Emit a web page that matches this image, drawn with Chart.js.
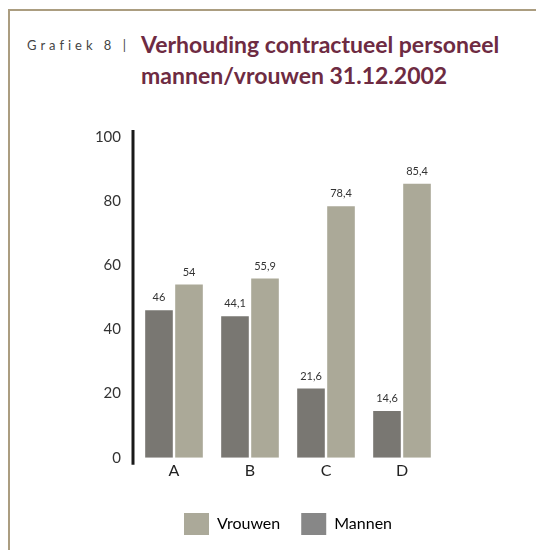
<!DOCTYPE html>
<html>
<head>
<meta charset="utf-8">
<script src="https://cdn.jsdelivr.net/npm/chart.js@4.4.0/dist/chart.umd.min.js"></script>
<style>
  body { margin: 0; background: #fff; width: 536px; height: 550px; overflow: hidden; position: relative; font-family: Lato, sans-serif; }
  .frame { position: absolute; left: 8px; top: 9px; right: 0; bottom: 0; border-left: 2px solid #ab9d80; border-top: 2px solid #ab9d80; }
  .kop { position: absolute; left: 27px; top: 37px; font-size: 13px; letter-spacing: 4px; color: #444; }
  .titel { position: absolute; left: 141px; top: 29px; font-size: 23px; line-height: 31px; font-weight: bold; color: #6e2b42; }
  .wrap { position: absolute; left: 45px; top: 110px; width: 491px; height: 440px; }
</style>
</head>
<body>
<div class="frame"></div>
<div class="kop">Grafiek 8 |</div>
<div class="titel">Verhouding contractueel personeel<br>mannen/vrouwen 31.12.2002</div>
<div class="wrap"><canvas id="myChart"></canvas></div>
<script>
var categories = ['A', 'B', 'C', 'D'];
var mannen = [46, 44.1, 21.6, 14.6];
var vrouwen = [54, 55.9, 78.4, 85.4];
var yTicks = [0, 20, 40, 60, 80, 100];

// numbers above the bars, with a decimal comma
var valueLabels = {
  id: 'valueLabels',
  afterDatasetsDraw: function (chart) {
    var ctx = chart.ctx;
    ctx.save();
    ctx.font = '11px Lato, sans-serif';
    ctx.fillStyle = '#333';
    ctx.textAlign = 'center';
    ctx.textBaseline = 'bottom';
    chart.data.datasets.forEach(function (ds, i) {
      chart.getDatasetMeta(i).data.forEach(function (bar, j) {
        ctx.fillText(String(ds.data[j]).replace('.', ','), bar.x, bar.y - 7);
      });
    });
    ctx.restore();
  }
};

// thick black y axis, a bit longer than the scale itself
var axisLine = {
  id: 'axisLine',
  afterDraw: function (chart) {
    var ctx = chart.ctx;
    var a = chart.chartArea;
    ctx.save();
    ctx.strokeStyle = '#1a1a1a';
    ctx.lineWidth = 3;
    ctx.beginPath();
    ctx.moveTo(a.left - 3, a.top - 7);
    ctx.lineTo(a.left - 3, a.bottom + 7);
    ctx.stroke();
    ctx.restore();
  }
};

var legendColors = ['#aba999', '#878787'];

var ctx = document.getElementById('myChart').getContext('2d');
var myChart = new Chart(ctx, {
  type: 'bar',
  data: {
    labels: categories,
    datasets: [{
      label: 'Mannen',
      data: mannen,
      backgroundColor: '#797772'
    }, {
      label: 'Vrouwen',
      data: vrouwen,
      backgroundColor: '#aba998'
    }]
  },
  options: {
    responsive: true,
    maintainAspectRatio: false,
    animation: false,
    categoryPercentage: 0.79,
    barPercentage: 0.92,
    layout: { padding: { top: 27, right: 96, bottom: 5 } },
    plugins: {
      tooltip: { enabled: false },
      legend: {
        position: 'bottom',
        fullSize: false,
        reverse: true,
        labels: {
          boxWidth: 25,
          boxHeight: 22,
          padding: 21,
          color: '#222',
          font: { family: 'Lato, sans-serif', size: 16 },
          generateLabels: function (chart) {
            return chart.data.datasets.map(function (ds, i) {
              return {
                text: ds.label,
                fillStyle: i === 0 ? legendColors[1] : legendColors[0],
                strokeStyle: 'transparent',
                lineWidth: 0,
                datasetIndex: i
              };
            });
          }
        }
      }
    },
    scales: {
      x: {
        afterFit: function (scale) { scale.height += 9; },
        grid: { display: false, drawTicks: false },
        border: { display: false },
        ticks: { color: '#222', padding: 3, font: { family: 'Lato, sans-serif', size: 16 } }
      },
      y: {
        min: 0,
        max: 100,
        afterBuildTicks: function (scale) {
          scale.ticks = yTicks.map(function (v) { return { value: v }; });
        },
        afterFit: function (scale) { scale.width = 91; },
        grid: { display: false, drawTicks: false },
        border: { display: false },
        ticks: { color: '#333', padding: 15, font: { family: 'Lato, sans-serif', size: 15 } }
      }
    }
  },
  plugins: [valueLabels, axisLine]
});
</script>
</body>
</html>
